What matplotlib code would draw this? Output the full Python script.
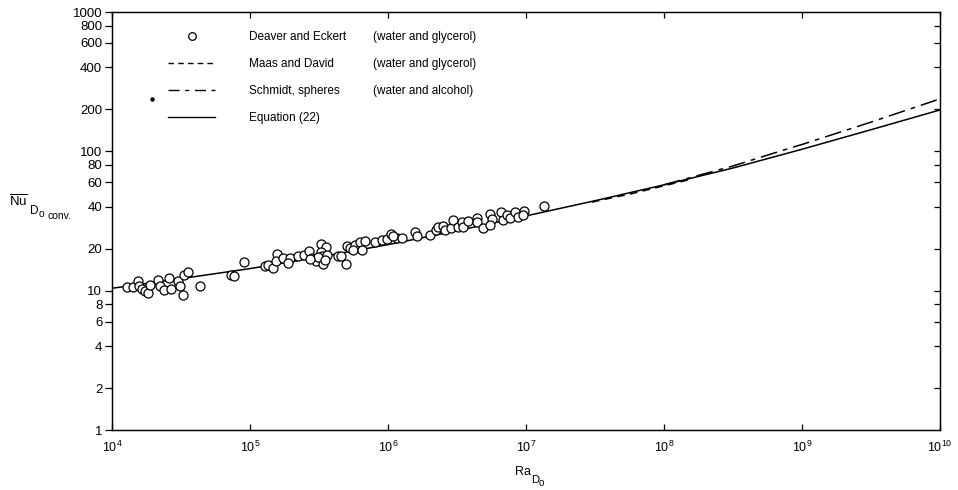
import matplotlib
matplotlib.use("Agg")
import matplotlib.pyplot as plt
from matplotlib.lines import Line2D
from matplotlib.ticker import FixedLocator, NullLocator, FixedFormatter

plt.rcParams['font.family'] = ['Liberation Sans', 'DejaVu Sans']
plt.rcParams['mathtext.fontset'] = 'custom'
plt.rcParams['mathtext.rm'] = 'Liberation Sans'
plt.rcParams['mathtext.it'] = 'Liberation Sans'

# ---------------- data ----------------
# Deaver and Eckert (water and glycerol) measurements
deaver_ra = [1.29e4, 1.42e4, 1.55e4, 1.57e4, 1.65e4, 1.74e4, 1.82e4, 1.89e4, 2.16e4, 2.23e4,
             2.38e4, 2.59e4, 2.68e4, 3.01e4, 3.12e4, 3.33e4, 3.56e4, 3.28e4, 4.35e4, 7.30e4,
             7.68e4, 9.08e4,
             1.29e5, 1.36e5, 1.47e5, 1.58e5, 1.55e5, 1.74e5, 1.96e5, 1.89e5, 2.24e5, 2.47e5,
             2.69e5, 2.83e5, 3.02e5, 3.29e5, 3.57e5, 3.29e5, 3.40e5, 3.34e5, 3.13e5, 3.63e5,
             2.73e5, 3.51e5, 4.37e5, 4.59e5, 4.99e5, 5.07e5, 5.34e5, 5.80e5, 6.31e5, 6.86e5,
             5.61e5, 6.52e5, 8.10e5, 9.11e5, 9.90e5, 1.06e6, 1.17e6,
             1.08e6, 1.27e6, 1.58e6, 1.61e6, 2.00e6, 2.21e6, 2.32e6, 2.52e6, 2.61e6, 2.84e6,
             2.98e6, 3.19e6, 3.41e6, 3.47e6, 3.77e6, 4.38e6, 4.45e6, 4.92e6, 5.53e6, 5.63e6,
             5.53e6, 6.54e6, 6.76e6, 7.23e6, 7.60e6, 8.27e6, 8.69e6, 9.61e6, 9.45e6, 1.34e7]
deaver_nu = [10.63, 10.64, 11.74, 10.81, 10.28, 9.95, 9.63, 10.99, 11.94, 10.81,
             10.12, 12.34, 10.28, 11.74, 10.81, 12.96, 13.62, 9.31, 10.81, 12.96,
             12.75, 16.07,
             15.04, 15.29, 14.55, 18.34, 16.34, 17.17, 17.17, 15.81, 17.75, 18.05,
             19.28, 17.17, 16.34, 21.64, 20.59, 18.96, 15.55, 17.75, 17.46, 18.05,
             16.89, 16.61, 17.75, 17.75, 15.55, 20.94, 20.26, 21.29, 22.37, 22.74,
             19.60, 19.60, 22.37, 23.12, 23.50, 25.53, 23.89,
             24.70, 23.89, 26.39, 24.70, 25.12, 27.29, 28.67, 29.14, 27.29, 28.19,
             32.18, 28.67, 31.13, 28.67, 31.65, 33.26, 31.13, 28.19, 35.52, 32.71,
             29.62, 36.73, 32.18, 34.94, 33.26, 36.73, 33.81, 37.34, 34.94, 40.55]

# stray dot in the original figure
dot_ra = [1.95e4]
dot_nu = [236]

# Maas and David (water and glycerol)
maas_ra = [3.0e7, 6.0e7, 1.5e8]
maas_nu = [43.2, 50.0, 62.4]

# Schmidt, spheres (water and alcohol)
schmidt_ra = [1e8, 3.16e8, 8.3e8, 1e9, 3.16e9, 1e10]
schmidt_nu = [57.5, 78.5, 106, 112, 162, 238]

# Equation (22)
eq_ra = [1e4, 3.16e4, 1e5, 3.16e5, 1e6, 3.16e6, 1e7, 3.16e7, 1e8, 3.16e8, 1e9, 3.16e9, 1e10]
eq_nu = [10.4, 12.2, 14.4, 17.4, 21.4, 26.9, 34.4, 44.2, 57.5, 75.9, 103.5, 142.9, 198.2]

legend_names = ["Deaver and Eckert", "Maas and David", "Schmidt, spheres", "Equation (22)"]
legend_fluids = ["(water and glycerol)", "(water and glycerol)", "(water and alcohol)", ""]

x_ticks = [1e4, 1e5, 1e6, 1e7, 1e8, 1e9, 1e10]
x_tick_labels = [r"$\mathregular{10^{4}}$", r"$\mathregular{10^{5}}$", r"$\mathregular{10^{6}}$",
                 r"$\mathregular{10^{7}}$", r"$\mathregular{10^{8}}$", r"$\mathregular{10^{9}}$",
                 r"$\mathregular{10^{10}}$"]
y_ticks = [1, 2, 4, 6, 8, 10, 20, 40, 60, 80, 100, 200, 400, 600, 800, 1000]
y_tick_labels = ["1", "2", "4", "6", "8", "10", "20", "40", "60", "80", "100",
                 "200", "400", "600", "800", "1000"]

# ---------------- figure ----------------
W, H = 958, 490
fig = plt.figure(figsize=(W / 100, H / 100), dpi=100)
ax = fig.add_axes([112/W, 1 - 430/H, 828/W, 418/H])
ax.set_xscale('log')
ax.set_yscale('log')
ax.set_xlim(1e4, 1e10)
ax.set_ylim(1, 1000)

dash_maas = (0, (5, 3.5))
dash_schmidt = (0, (11, 4, 3, 4))

ax.plot(eq_ra, eq_nu, color='black', lw=1.1, solid_capstyle='butt')
ax.plot(maas_ra, maas_nu, color='black', lw=1.1, linestyle=dash_maas)
ax.plot(schmidt_ra, schmidt_nu, color='black', lw=1.1, linestyle=dash_schmidt)
ax.plot(deaver_ra, deaver_nu, linestyle='none', marker='o', markersize=6.5,
        markerfacecolor='white', markeredgecolor='black', markeredgewidth=0.9)
ax.plot(dot_ra, dot_nu, linestyle='none', marker='o', markersize=2.2, color='black')

# ticks
ax.xaxis.set_major_locator(FixedLocator(x_ticks))
ax.xaxis.set_major_formatter(FixedFormatter(x_tick_labels))
ax.xaxis.set_minor_locator(NullLocator())
ax.yaxis.set_major_locator(FixedLocator(y_ticks))
ax.yaxis.set_major_formatter(FixedFormatter(y_tick_labels))
ax.yaxis.set_minor_locator(NullLocator())
ax.tick_params(axis='x', which='major', direction='in', length=4, width=0.9,
               top=True, bottom=True, labelsize=9, pad=7)
ax.tick_params(axis='y', which='major', direction='out', length=5, width=0.9,
               left=True, right=False, labelsize=9.5, pad=2)
for spine in ax.spines.values():
    spine.set_linewidth(1.0)

# right-side inward ticks via secondary axis
ax2 = ax.twinx()
ax2.set_yscale('log')
ax2.set_ylim(ax.get_ylim())
ax2.yaxis.set_major_locator(FixedLocator(y_ticks[1:-1]))
ax2.yaxis.set_minor_locator(NullLocator())
ax2.tick_params(axis='y', direction='in', length=4, width=0.9, labelright=False)

# legend
h_circle = Line2D([], [], linestyle='none', marker='o', markersize=5.5,
                  markerfacecolor='white', markeredgecolor='black', markeredgewidth=0.9)
h_maas = Line2D([], [], color='black', lw=1.0, linestyle=(0, (4, 3)))
h_schmidt = Line2D([], [], color='black', lw=1.0, linestyle=(0, (8, 4, 3, 4)))
h_eq = Line2D([], [], color='black', lw=1.0)
blank = [Line2D([], [], linestyle='none') for _ in range(4)]
leg = ax.legend([h_circle, h_maas, h_schmidt, h_eq] + blank,
                legend_names + legend_fluids,
                ncol=2, loc='upper left', bbox_to_anchor=(56/828, (418 - 19)/418),
                frameon=False, fontsize=8.5, handlelength=4.0, handletextpad=2.9,
                labelspacing=1.27, columnspacing=-4.65, borderpad=0, borderaxespad=0)

# axis labels (composed so subscripts stay legible)
fig.text(515/W, 1 - 472/H, "Ra", ha='left', va='center', fontsize=9)
fig.text(531/W, 1 - 480/H, "D", ha='left', va='center', fontsize=8)
fig.text(538.5/W, 1 - 483/H, "o", ha='left', va='center', fontsize=7)

fig.text(9/W, 1 - 202/H, r"$\mathregular{\overline{Nu}}$", ha='left', va='center', fontsize=9.5)
fig.text(30/W, 1 - 211/H, "D", ha='left', va='center', fontsize=8.5)
fig.text(38.5/W, 1 - 214/H, "o", ha='left', va='center', fontsize=7.5)
fig.text(48/W, 1 - 216/H, "conv.", ha='left', va='center', fontsize=7.5)

fig.savefig("out.png", dpi=100, facecolor='white')
